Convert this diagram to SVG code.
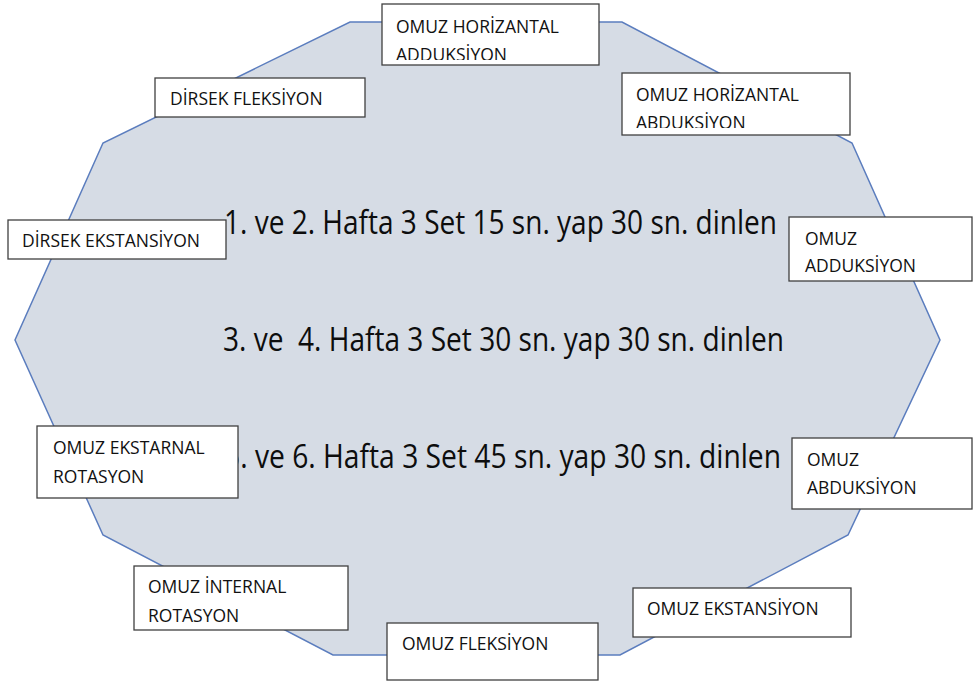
<svg xmlns="http://www.w3.org/2000/svg" width="973" height="682" viewBox="0 0 973 682">
  <style>
    .shape { fill: #D6DCE5; stroke: #5B7DBE; stroke-width: 1.5; }
    .box { fill: #FFFFFF; stroke: #404040; stroke-width: 1.3; }
    .lbl { font-family: "Open Sans", "Noto Sans", sans-serif; font-size: 17.5px; fill: #111111; }
    .big { font-family: "Open Sans", "Noto Sans", sans-serif; font-size: 28.5px; fill: #0D0D0D; }
  </style>
  <defs>
    <clipPath id="clipHorAdd"><rect x="383" y="5" width="215" height="55"/></clipPath>
    <clipPath id="clipHorAbd"><rect x="623" y="74" width="226" height="54"/></clipPath>
  </defs>
  <rect width="973" height="682" fill="#FFFFFF"/>

  <!-- central decagon with the weekly schedule; lines are stretched a little vertically -->
  <g id="schedule">
    <polygon class="shape" points="350,22 622,22 852,143 940,340 848,535 620,655 333,655 103,535 15,340 103,143"/>
    <text class="big" transform="translate(224,234) scale(1,1.13)" textLength="553" lengthAdjust="spacingAndGlyphs">1. ve 2. Hafta 3 Set 15 sn. yap 30 sn. dinlen</text>
    <text class="big" transform="translate(223,351) scale(1,1.13)" textLength="561" lengthAdjust="spacingAndGlyphs" xml:space="preserve">3. ve  4. Hafta 3 Set 30 sn. yap 30 sn. dinlen</text>
    <text class="big" transform="translate(224,468) scale(1,1.13)" textLength="557" lengthAdjust="spacingAndGlyphs">5. ve 6. Hafta 3 Set 45 sn. yap 30 sn. dinlen</text>
  </g>

  <g id="connectors"></g>

  <!-- exercise labels around the shape -->
  <g id="omuz-horizantal-adduksiyon">
    <rect class="box" x="382" y="4" width="217" height="61"/>
    <g clip-path="url(#clipHorAdd)">
      <text class="lbl" x="396" y="33">OMUZ HORİZANTAL</text>
      <text class="lbl" x="396" y="61">ADDUKSİYON</text>
    </g>
  </g>

  <g id="omuz-horizantal-abduksiyon">
    <rect class="box" x="622" y="73" width="228" height="62"/>
    <g clip-path="url(#clipHorAbd)">
      <text class="lbl" x="636" y="101">OMUZ HORİZANTAL</text>
      <text class="lbl" x="636" y="129">ABDUKSİYON</text>
    </g>
  </g>

  <g id="dirsek-fleksiyon">
    <rect class="box" x="155" y="78" width="210" height="39"/>
    <text class="lbl" x="170" y="105">DİRSEK FLEKSİYON</text>
  </g>

  <g id="dirsek-ekstansiyon">
    <rect class="box" x="8" y="220" width="218" height="39"/>
    <text class="lbl" x="22" y="247">DİRSEK EKSTANSİYON</text>
  </g>

  <g id="omuz-adduksiyon">
    <rect class="box" x="789" y="217" width="183" height="64"/>
    <text class="lbl" x="805" y="245">OMUZ</text>
    <text class="lbl" x="805" y="272">ADDUKSİYON</text>
  </g>

  <g id="omuz-ekstarnal-rotasyon">
    <rect class="box" x="37" y="426" width="201" height="72"/>
    <text class="lbl" x="53" y="454">OMUZ EKSTARNAL</text>
    <text class="lbl" x="53" y="483">ROTASYON</text>
  </g>

  <g id="omuz-abduksiyon">
    <rect class="box" x="792" y="438" width="180" height="71"/>
    <text class="lbl" x="807" y="466">OMUZ</text>
    <text class="lbl" x="807" y="494">ABDUKSİYON</text>
  </g>

  <g id="omuz-internal-rotasyon">
    <rect class="box" x="134" y="566" width="214" height="64"/>
    <text class="lbl" x="148" y="593">OMUZ İNTERNAL</text>
    <text class="lbl" x="148" y="622">ROTASYON</text>
  </g>

  <g id="omuz-ekstansiyon">
    <rect class="box" x="633" y="588" width="218" height="49"/>
    <text class="lbl" x="647" y="615">OMUZ EKSTANSİYON</text>
  </g>

  <g id="omuz-fleksiyon">
    <rect class="box" x="387" y="623" width="211" height="57"/>
    <text class="lbl" x="402" y="650">OMUZ FLEKSİYON</text>
  </g>
</svg>
